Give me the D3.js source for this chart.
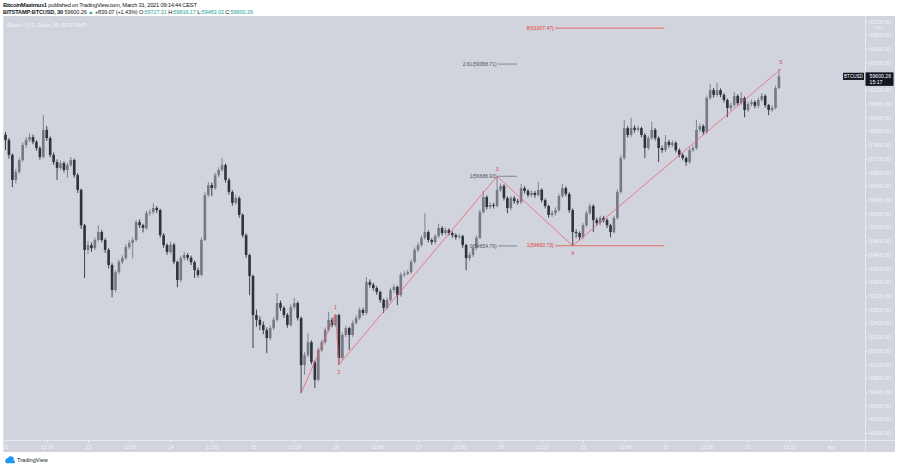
<!DOCTYPE html>
<html><head><meta charset="utf-8">
<script src="https://cdn.jsdelivr.net/npm/d3@7"></script>
<style>
body{margin:0;background:#fff;}
svg{display:block;font-family:"Liberation Sans",Arial,sans-serif;}
</style></head><body>
<svg id="c" width="903" height="470"></svg>
<script>
// ---- DATA (BITSTAMP:BTCUSD, read as hourly bars from 22 Mar 00:00) ----
const firstOpen = 57900;
const closes = [
57740,57310,56580,56810,57160,57600,57750,57830,57690,57510,
57250,58040,57800,57310,57100,56930,57070,56870,57010,57160,
56720,56290,55260,54540,54680,54590,54830,55060,54830,54540,
54100,53370,53890,54190,54300,54620,54740,54830,55350,55260,
55180,55610,55640,55760,55700,54970,54680,54480,54690,54190,
53660,54300,54390,54310,54180,53950,53810,54830,56140,56430,
56340,56720,56870,57010,56580,56230,55910,56050,55560,54970,
54390,53780,52640,52500,52350,52200,51970,52260,52500,52990,
52850,52640,52350,52870,52990,52550,51180,51470,51850,51270,
50750,51620,51850,52200,52500,52350,52640,51390,52060,52260,
52060,52410,52550,52790,52700,53600,53520,53430,53310,53080,
52850,53080,53370,53460,53220,53810,53840,53890,54190,54540,
54680,54890,55060,54830,54770,54940,55180,55030,55120,55030,
54970,54910,54940,54680,54300,54390,54590,54890,55640,56080,
55790,55850,55820,56290,56400,56050,55760,56050,55960,55930,
56340,56260,56140,56200,56140,56290,55990,55820,55560,55610,
55700,56110,56340,56170,55700,55060,55030,54910,55260,55610,
55820,55410,55320,55470,55410,55260,55060,55470,56230,57220,
58090,57890,58100,58040,58090,57890,57510,57800,58040,57800,
57510,57450,57690,57600,57660,57450,57310,57220,57100,57450,
57510,58040,58150,57980,58970,59200,59060,59200,59060,58910,
58680,58760,59030,58820,58970,58620,58790,58850,58740,58910,
59030,58760,58620,58680,59260,59600.26];
const highs = [
57980,57800,57350,56900,57230,57680,57830,57940,57900,57740,
57560,58470,58150,57850,57380,57180,57150,57120,57080,57250,
57200,56780,56330,55300,54800,54760,54900,55260,55120,54880,
54590,54150,53950,54250,54380,54700,54820,54900,55420,55430,
55300,55680,55720,55900,55820,55740,55030,54730,54780,54740,
54230,54370,54480,54450,54370,54230,54020,54900,56220,56520,
56500,56790,56950,57220,57060,56640,56280,56150,56100,55610,
55020,54430,53820,52800,52600,52450,52280,52330,52580,53280,
53060,52900,52700,52950,53140,53040,52600,51560,52110,51900,
51320,51700,51920,52280,52730,52560,52670,52680,52130,52330,
52300,52480,52630,52860,52850,53750,53680,53580,53480,53360,
53120,53150,53440,53540,53500,53880,53920,53960,54260,54610,
54760,54960,55610,55110,54880,55000,55300,55230,55190,55170,
55080,55020,55010,54980,54720,54470,54660,54960,55710,56260,
56130,55930,55910,56686.93,56480,56450,56100,56120,56110,56030,
56460,56400,56310,56270,56260,56520,56340,56040,55860,55690,
55780,56180,56460,56390,56220,55750,55140,55080,55330,55680,
55900,55870,55480,55540,55530,55460,55300,55540,56300,57300,
58330,58150,58390,58170,58160,58130,57940,57870,58270,58090,
57850,57580,57890,57750,57730,57710,57500,57360,57270,57520,
57590,58330,58230,58200,59040,59380,59260,59410,59250,59110,
58950,58830,59140,59080,59140,59010,58860,58920,58900,58980,
59110,59080,58800,58750,59330,59816.17];
const lows = [
57450,57200,56370,56480,56760,57100,57520,57690,57620,57430,
57170,57200,57720,57240,57020,56580,56880,56800,56640,56960,
56650,56200,55150,53720,54420,54480,54530,54780,54760,54450,
54000,53160,53300,53830,54120,54250,54560,54300,54780,55180,
55050,55120,55540,55580,55620,54900,54600,54400,54420,54120,
53450,53600,54230,54230,54100,53720,53740,53770,54800,56080,
56110,56290,56660,56820,56500,56150,55830,55850,55480,54900,
54310,53220,51680,52300,52200,52080,51530,51900,52200,52450,
52760,52560,52270,52300,52800,52480,50360,50900,51400,51200,
50510,50700,51560,51780,52150,52280,52300,51190,51340,52000,
51620,52000,52360,52500,52620,52650,53440,53350,53230,53000,
52700,52800,53020,53300,52930,53170,53740,53800,53840,54140,
54480,54620,54840,54760,54690,54700,54890,54960,54980,54960,
54900,54840,54860,54600,53950,54220,54330,54540,54850,55600,
55720,55730,55750,55780,56230,55980,55610,55700,55890,55860,
55880,56190,56070,56080,56060,56090,55920,55750,55480,55500,
55540,55650,56060,56100,55620,54660.73,54900,54820,54860,55200,
55560,55060,55250,55260,55340,55180,54910,55010,55420,56180,
57170,57820,57840,57960,57990,57820,57220,57450,57750,57730,
57100,57370,57400,57520,57540,57380,57240,57150,56990,57050,
57400,57460,57980,57900,57930,58920,58980,59010,58990,58840,
58410,58610,58710,58750,58770,58410,58560,58730,58670,58680,
58860,58690,58470,58560,58640,59230];

const timeTickIdx = [0,12,24,36,48,60,72,84,96,108,120,132,144,156,168,180,192,204,216,228,240];
const timeTickLabels = ["22","12:00","23","12:00","24","12:00","25","12:00","26","12:00","27","12:00","28","12:00","29","12:00","30","12:00","31","12:00","Apr"];
const priceTicks = [49200,49600,50000,50400,50800,51200,51600,52000,52400,52800,53200,53600,54000,54400,54800,55200,55600,56000,56400,56800,57200,57600,58000,58400,58800,59200,59600,60000,60400,60800,61200];

const waveIdx    = [86, 96, 97, 143, 165, 225.6];
const wavePrice  = [50360, 52670, 51190, 56686.93, 54660.73, 59816.17];
const waveLabels = ["", "1", "2", "3", "4", "5"];

const fibLabels = ["8(61007.47)", "2.61(59958.71)", "1(56686.93)", "0(54654.76)", "1(54660.73)"];
const fibPrices = [61007.47, 59958.71, 56686.93, 54654.76, 54660.73];
const fibStart  = [159.9, 143.3, 143.3, 143.3, 159.9];
const fibEnd    = [191.6, 148.8, 148.8, 148.8, 191.6];
const fibKind   = ["target", "ext", "ext", "ext", "target"];

const lastPrice = 59600.26;

// ---- DRAW ----
const svg = d3.select("#c");
const L = 3.3, R = 865, T = 16, B = 440, RR = 895, BB = 452;
const x = d3.scaleLinear().domain([0, 216]).range([5.5, 748]);
const y = d3.scaleLinear().domain([49200, 61200]).range([433, 21.5]);

// header
const h1 = svg.append("text").attr("x", 3).attr("y", 7).attr("font-size", 5.8).attr("fill", "#131722")
  .attr("textLength", 194).attr("lengthAdjust", "spacing");
h1.append("tspan").attr("font-weight", "bold").text("BitcoinMaximus1");
h1.append("tspan").text(" published on TradingView.com, March 31, 2021 09:14:44 CEST");
const h2 = svg.append("text").attr("x", 3).attr("y", 14.3).attr("font-size", 5.6).attr("fill", "#131722")
  .attr("textLength", 250).attr("lengthAdjust", "spacing");
h2.append("tspan").attr("font-weight", "bold").text("BITSTAMP:BTCUSD, 30");
h2.append("tspan").text(" 59600.26 ");
h2.append("tspan").attr("fill", "#26a69a").text("▲");
h2.append("tspan").text(" +839.07 (+1.43%) O:");
h2.append("tspan").attr("fill", "#26a69a").text("59727.31");
h2.append("tspan").text(" H:");
h2.append("tspan").attr("fill", "#26a69a").text("59816.17");
h2.append("tspan").text(" L:");
h2.append("tspan").attr("fill", "#26a69a").text("59483.02");
h2.append("tspan").text(" C:");
h2.append("tspan").attr("fill", "#26a69a").text("59600.26");

// background
svg.append("rect").attr("x", L).attr("y", T).attr("width", RR - L).attr("height", BB - T).attr("fill", "#d1d4dc");

svg.append("defs").append("clipPath").attr("id", "clip")
  .append("rect").attr("x", L).attr("y", T).attr("width", R - L).attr("height", B - T);
const plot = svg.append("g").attr("clip-path", "url(#clip)");

// legend
svg.append("text").attr("x", 7).attr("y", 27).attr("font-size", 5).attr("fill", "#f4f5f8")
  .text("Bitcoin / U.S. Dollar, 30, BITSTAMP");

// candles
const bars = closes.map((c, i) => ({
  i, o: i === 0 ? firstOpen : closes[i - 1], h: highs[i], l: lows[i], c
}));
const upCol = "#767983", dnCol = "#2e323d";
const g = plot.append("g");
g.selectAll("line.w").data(bars).join("line")
  .attr("x1", d => x(d.i)).attr("x2", d => x(d.i))
  .attr("y1", d => y(d.h)).attr("y2", d => y(d.l))
  .attr("stroke", d => d.c >= d.o ? upCol : dnCol).attr("stroke-width", 0.9);
g.selectAll("rect.b").data(bars).join("rect")
  .attr("x", d => x(d.i) - 1.3).attr("width", 2.6)
  .attr("y", d => y(Math.max(d.o, d.c)))
  .attr("height", d => Math.max(0.7, Math.abs(y(d.o) - y(d.c))))
  .attr("fill", d => d.c >= d.o ? upCol : dnCol);

// fib lines
fibPrices.forEach((p, k) => {
  const col = fibKind[k] === "target" ? "#ef5350" : "#6f727c";
  plot.append("line").attr("x1", x(fibStart[k])).attr("x2", x(fibEnd[k]))
    .attr("y1", y(p)).attr("y2", y(p)).attr("stroke", col).attr("stroke-width", 0.8);
  plot.append("text").attr("x", x(fibStart[k]) - 1.5).attr("y", y(p) + 1.7)
    .attr("text-anchor", "end").attr("font-size", 5).attr("fill", fibKind[k] === "target" ? "#e53935" : "#50535e")
    .text(fibLabels[k]);
});

// elliott wave
const wave = waveIdx.map((t, k) => ({ t, p: wavePrice[k], lab: waveLabels[k] }));
plot.append("path").datum(wave)
  .attr("d", d3.line().x(d => x(d.t)).y(d => y(d.p)))
  .attr("fill", "none").attr("stroke", "#f0626a").attr("stroke-width", 0.8);
wave.forEach((d, k) => {
  if (!d.lab) return;
  const above = k % 2 === 1;
  plot.append("text").attr("x", x(d.t)).attr("y", y(d.p) + (above ? -5 : 9))
    .attr("text-anchor", "middle").attr("font-size", 5).attr("fill", "#e53935").text(d.lab);
});

// separators
svg.append("line").attr("x1", R + 0.5).attr("x2", R + 0.5).attr("y1", T).attr("y2", BB).attr("stroke", "#eceef3").attr("stroke-width", 0.8);
svg.append("line").attr("x1", L).attr("x2", RR).attr("y1", B + 0.5).attr("y2", B + 0.5).attr("stroke", "#eceef3").attr("stroke-width", 0.8);

// price axis
const ya = svg.append("g").attr("transform", `translate(${R},0)`)
  .call(d3.axisRight(y).tickValues(priceTicks).tickFormat(d3.format(".2f")).tickSize(2.5).tickPadding(1.8));
ya.select(".domain").remove();
ya.selectAll("line").attr("stroke", "#eceef3");
ya.selectAll("text").attr("fill", "#f2f3f7").attr("font-size", 5.2).attr("font-family", "Liberation Sans, Arial");
svg.append("text").attr("x", 879).attr("y", 28.6).attr("text-anchor", "middle").attr("font-size", 4.4).attr("fill", "#f2f3f7").text("USD");

// time axis
const xa = svg.append("g").attr("transform", `translate(0,${B})`)
  .call(d3.axisBottom(x).tickValues(timeTickIdx).tickFormat((d, i) => timeTickLabels[i]).tickSize(2.5).tickPadding(2.5));
xa.select(".domain").remove();
xa.selectAll("line").attr("stroke", "#eceef3");
xa.selectAll("text").attr("fill", "#f2f3f7").attr("font-size", 5.2).attr("font-family", "Liberation Sans, Arial");

// last price labels
const ly = y(lastPrice);
svg.append("rect").attr("x", 843).attr("y", ly - 3.6).attr("width", 21).attr("height", 7.2).attr("fill", "#131722");
svg.append("text").attr("x", 853.5).attr("y", ly + 1.7).attr("text-anchor", "middle").attr("font-size", 4.6).attr("fill", "#fff").text("BTCUSD");
svg.append("rect").attr("x", R + 0.5).attr("y", ly - 4).attr("width", 28).attr("height", 13.5).attr("fill", "#131722");
svg.append("text").attr("x", 869.5).attr("y", ly + 1.8).attr("font-size", 5.2).attr("fill", "#fff").text(d3.format(".2f")(lastPrice));
svg.append("text").attr("x", 869.5).attr("y", ly + 7.6).attr("font-size", 5.2).attr("fill", "#fff").text("15:17");

// TradingView logo
const logo = svg.append("g").attr("transform", "translate(4,456)");
logo.append("circle").attr("cx", 4).attr("cy", 4.5).attr("r", 2.6).attr("fill", "#2196f3");
logo.append("circle").attr("cx", 6.8).attr("cy", 3.2).attr("r", 3).attr("fill", "#2196f3");
logo.append("rect").attr("x", 1.5).attr("y", 4.5).attr("width", 9.5).attr("height", 2.8).attr("rx", 1.2).attr("fill", "#2196f3");
svg.append("text").attr("x", 17).attr("y", 462.3).attr("font-size", 5.6).attr("fill", "#131722").text("TradingView");
</script>
</body></html>
